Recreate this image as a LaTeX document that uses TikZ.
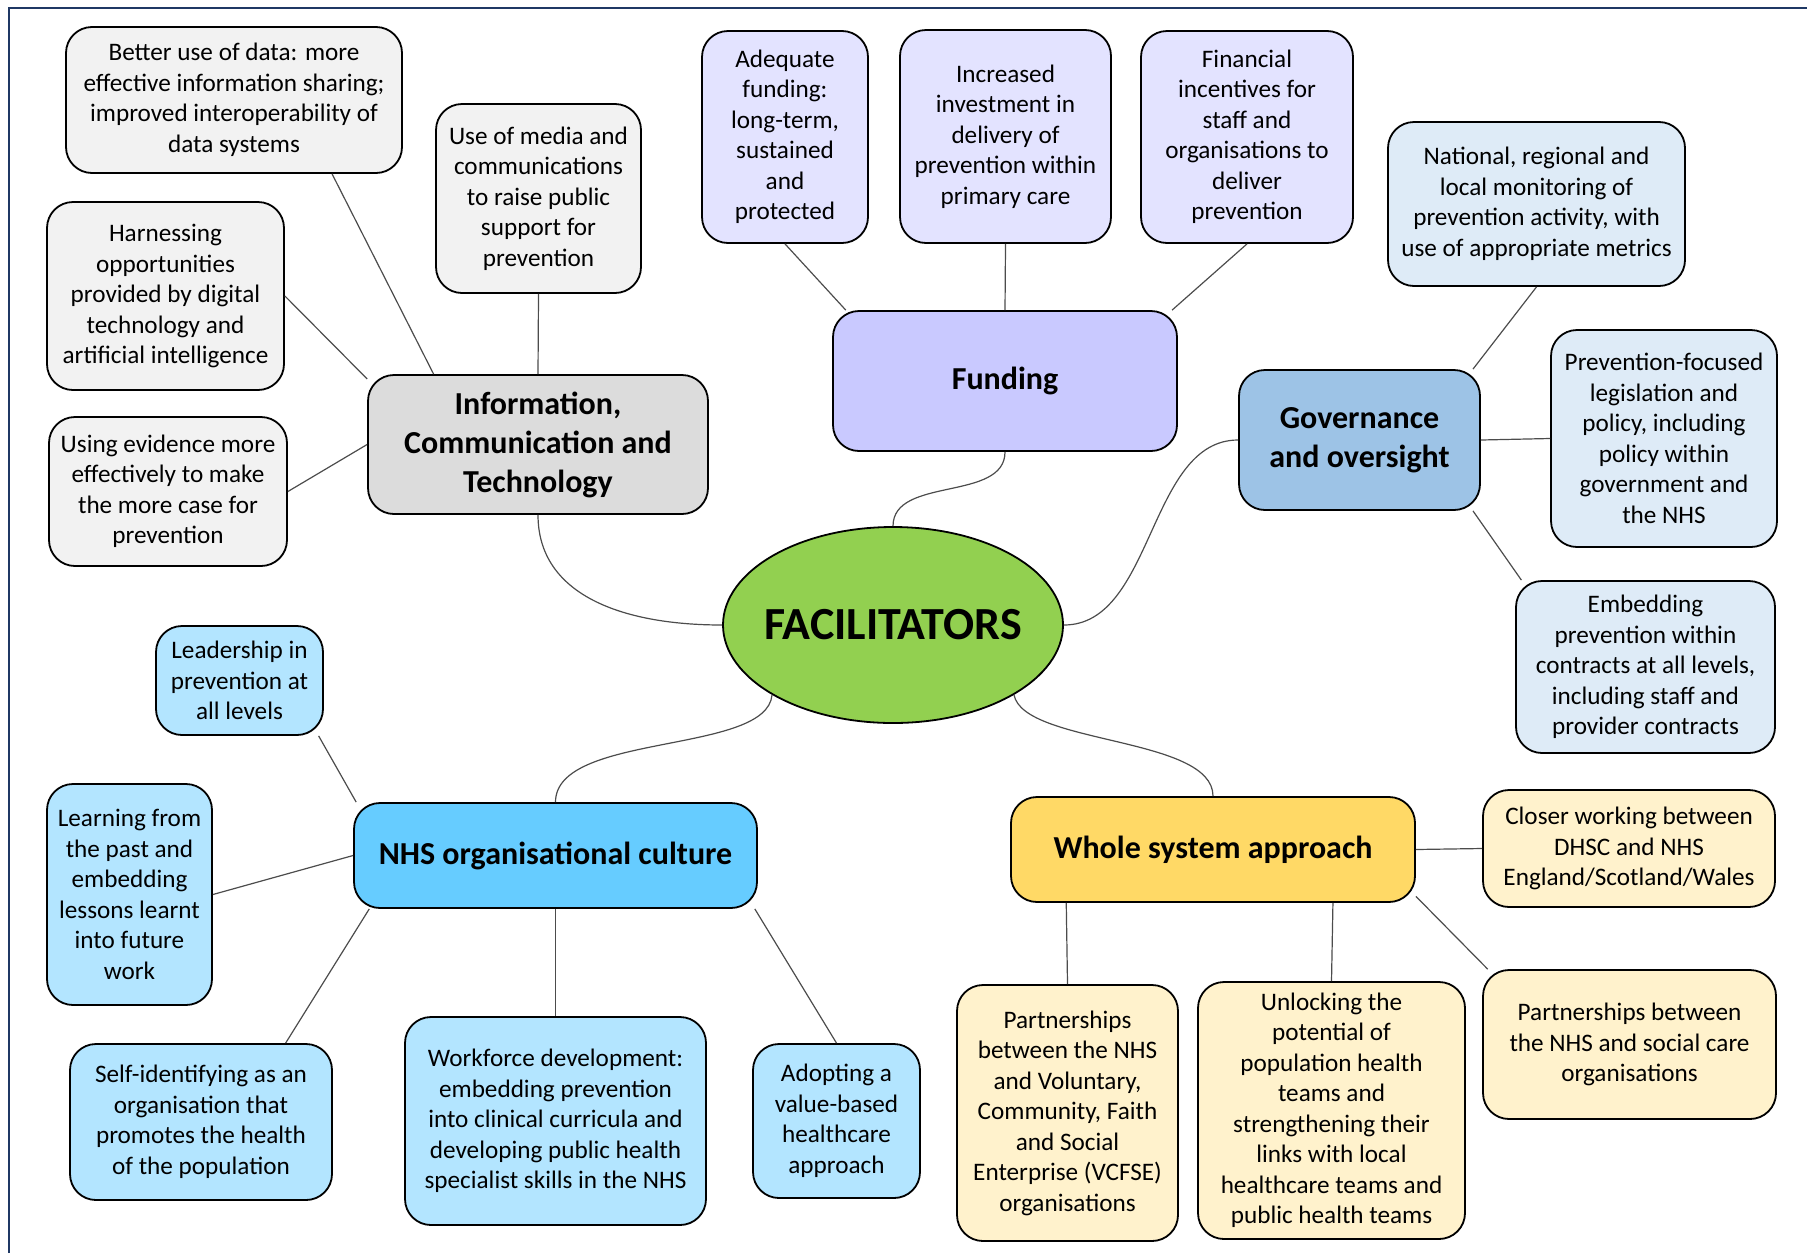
\documentclass[tikz,border=0pt]{standalone}
\usepackage{fontspec}
\setmainfont{Carlito}
\usepackage{tikz}
\usetikzlibrary{shapes.geometric}

\definecolor{framenavy}{HTML}{1F3864}
\definecolor{greysub}{HTML}{F2F2F2}
\definecolor{greymain}{HTML}{DCDCDC}
\definecolor{fundsub}{HTML}{E3E3FF}
\definecolor{fundmain}{HTML}{C9C9FF}
\definecolor{govsub}{HTML}{DEEBF7}
\definecolor{govmain}{HTML}{9DC3E6}
\definecolor{nhssub}{HTML}{B3E5FF}
\definecolor{nhsmain}{HTML}{66CCFF}
\definecolor{wholesub}{HTML}{FFF2CC}
\definecolor{wholemain}{HTML}{FFD966}
\definecolor{facilgreen}{HTML}{92D050}

\begin{document}
\begin{tikzpicture}[x=0.5pt,y=-0.5pt,
		box/.style={rectangle,rounded corners=13pt,draw,line width=0.9pt,align=center,inner sep=2pt,
			font=\fontsize{12.6}{15.25}\selectfont},
		head/.style={box,font=\fontsize{16}{19.5}\selectfont\bfseries},
		sz/.style 2 args={minimum width=#1*0.5pt,minimum height=#2*0.5pt},
		link/.style={draw=black!70,line width=0.6pt}]
		\useasboundingbox (0,0) rectangle (1807,1253);
		\draw[framenavy,line width=1.3pt] (9,1253) -- (9,8) -- (1807,8);

		% centre
		\path (893,625) node(facil) [ellipse,draw,line width=0.9pt,fill=facilgreen,minimum width=170pt,minimum height=98pt,
			label={[font=\fontsize{23}{28}\selectfont\bfseries]center:FACILITATORS}] {};

		% information, communication and technology
		\path (538,444.5) node(ict) [head,sz={340}{139},fill=greymain] {Information,\\Communication and\\Technology};
		\path (234,100) node(data) [box,sz={336}{146},fill=greysub] {Better use of data: more\\effective information sharing;\\improved interoperability of\\data systems};
		\path (538.5,198.5) node(media) [box,sz={205}{189},fill=greysub] {Use of media and\\communications\\to raise public\\support for\\prevention};
		\path (165.5,296) node(digital) [box,sz={237}{188},fill=greysub] {Harnessing\\opportunities\\provided by digital\\technology and\\artificial intelligence};
		\path (168,491.5) node(evidence) [box,sz={238}{149},fill=greysub] {Using evidence more\\effectively to make\\the more case for\\prevention};

		% funding
		\path (1005,381) node(funding) [head,sz={344}{140},fill=fundmain] {Funding};
		\path (785,137) node(adequate) [box,sz={166}{212},fill=fundsub] {Adequate\\funding:\\long-term,\\sustained\\and\\protected};
		\path (1005.5,136.5) node(increased) [box,sz={211}{213},fill=fundsub] {Increased\\investment in\\delivery of\\prevention within\\primary care};
		\path (1247,137) node(financial) [box,sz={212}{212},fill=fundsub] {Financial\\incentives for\\staff and\\organisations to\\deliver\\prevention};

		% governance
		\path (1359.5,440) node(governance) [head,sz={241}{140},fill=govmain] {Governance\\and oversight};
		\path (1536.5,204) node(monitoring) [box,sz={297}{164},fill=govsub] {National, regional and\\local monitoring of\\prevention activity, with\\use of appropriate metrics};
		\path (1664,438.5) node(legislation) [box,sz={226}{217},fill=govsub] {Prevention-focused\\legislation and\\policy, including\\policy within\\government and\\the NHS};
		\path (1645.5,667) node(contracts) [box,sz={259}{172},fill=govsub] {Embedding\\prevention within\\contracts at all levels,\\including staff and\\provider contracts};

		% nhs organisational culture
		\path (555.5,855.5) node(nhs) [head,sz={403}{105},fill=nhsmain] {NHS organisational culture};
		\path (239.5,680.5) node(leadership) [box,sz={167}{109},fill=nhssub] {Leadership in\\prevention at\\all levels};
		\path (129.5,894.5) node(learning) [box,sz={165}{221},fill=nhssub] {Learning from\\the past and\\embedding\\lessons learnt\\into future\\work};
		\path (201,1122) node(selfid) [box,sz={262}{156},fill=nhssub] {Self-identifying as an\\organisation that\\promotes the health\\of the population};
		\path (555.5,1121) node(workforce) [box,sz={301}{208},fill=nhssub] {Workforce development:\\embedding prevention\\into clinical curricula and\\developing public health\\specialist skills in the NHS};
		\path (836.5,1121) node(valuebased) [box,sz={167}{154},fill=nhssub] {Adopting a\\value-based\\healthcare\\approach};

		% whole system approach
		\path (1213,849.5) node(whole) [head,sz={404}{105},fill=wholemain] {Whole system approach};
		\path (1629,848.5) node(closer) [box,sz={292}{117},fill=wholesub] {Closer working between\\DHSC and NHS\\England/Scotland/Wales};
		\path (1067.5,1113) node(vcfse) [box,sz={221}{256},fill=wholesub] {Partnerships\\between the NHS\\and Voluntary,\\Community, Faith\\and Social\\Enterprise (VCFSE)\\organisations};
		\path (1331.5,1110.5) node(popteams) [box,sz={267}{257},fill=wholesub] {Unlocking the\\potential of\\population health\\teams and\\strengthening their\\links with local\\healthcare teams and\\public health teams};
		\path (1629.5,1044.5) node(socialcare) [box,sz={293}{149},fill=wholesub] {Partnerships between\\the NHS and social care\\organisations};

		% links
		\draw[link] (data.-37.5) -- (ict.146);
		\draw[link] (media.south) -- (ict.north);
		\draw[link] (digital.east) -- (ict.159);
		\draw[link] (evidence.east) -- (ict.west);
		\draw[link] (ict.south) .. controls +(0,80) and +(-100,0) .. (facil.west);

		\draw[link] (adequate.south) -- (funding.156);
		\draw[link] (increased.south) -- (funding.north);
		\draw[link] (financial.south) -- (funding.23);
		\draw[link] (funding.south) .. controls +(0,50) and +(0,-50) .. (facil.north);

		\draw[link] (monitoring.south) -- (governance.32);
		\draw[link] (governance.east) -- (legislation.west);
		\draw[link] (governance.-32) -- (contracts.145);
		\draw[link] (governance.west) .. controls +(-90,0) and +(90,0) .. (facil.east);

		\draw[link] (facil.210) .. controls +(-5,60) and +(0,-70) .. (nhs.north);
		\draw[link] (leadership.-35) -- (nhs.165);
		\draw[link] (learning.east) -- (nhs.west);
		\draw[link] (nhs.196) -- (selfid.43);
		\draw[link] (nhs.south) -- (workforce.north);
		\draw[link] (nhs.-15) -- (valuebased.north);

		\draw[link] (facil.-30) .. controls +(10,50) and +(0,-60) .. (whole.north);
		\draw[link] (whole.east) -- (closer.west);
		\draw[link] (whole.200) -- (vcfse.north);
		\draw[link] (whole.-24) -- (popteams.north);
		\draw[link] (whole.-13) -- (socialcare.152);
	\end{tikzpicture}
\end{document}
